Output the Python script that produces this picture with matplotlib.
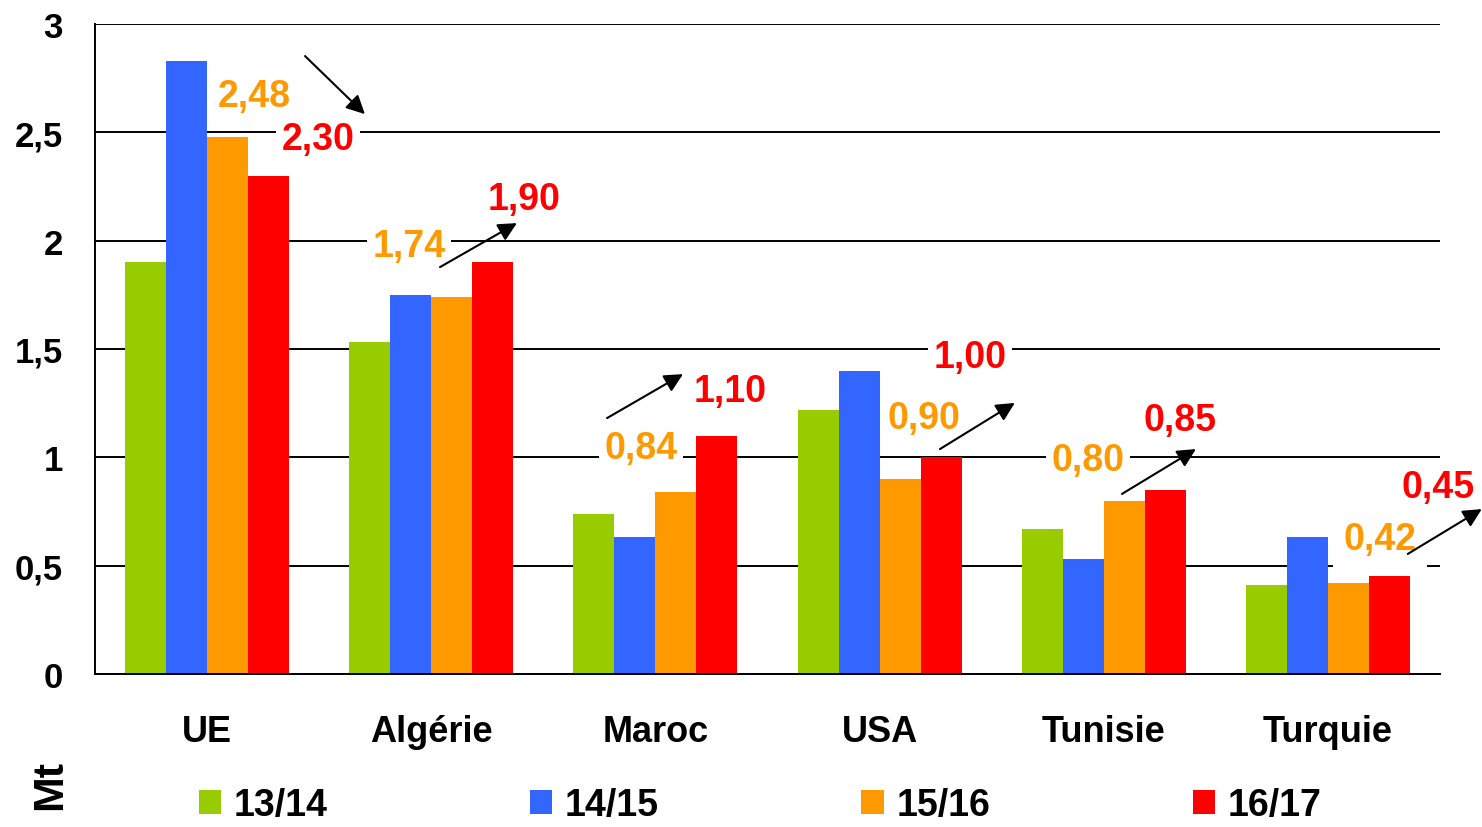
import numpy as np
import matplotlib.pyplot as plt

plt.rcParams['font.family'] = ['Liberation Sans', 'DejaVu Sans']
plt.rcParams['font.weight'] = 'bold'

# production by origin, Mt
pays = ['UE', 'Algérie', 'Maroc', 'USA', 'Tunisie', 'Turquie']
campagnes = ['13/14', '14/15', '15/16', '16/17']
v1314 = [1.90, 1.53, 0.74, 1.22, 0.67, 0.41]
v1415 = [2.83, 1.75, 0.63, 1.40, 0.53, 0.63]
v1516 = [2.48, 1.74, 0.84, 0.90, 0.80, 0.42]
v1617 = [2.30, 1.90, 1.10, 1.00, 0.85, 0.45]
couleurs = ['#99CC00', '#3366FF', '#FF9900', '#FF0000']

# where the 15/16 and 16/17 value labels sit (x, y), one pair per country
pos_1516 = [(0.21, 2.67), (0.90, 1.975), (1.935, 1.043), (3.198, 1.181), (3.929, 0.988), (5.232, 0.623)]
pos_1617 = [(0.495, 2.469), (1.413, 2.192), (2.332, 1.306), (3.403, 1.463), (4.339, 1.172), (5.49, 0.863)]
fleches = [((0.437, 2.852), (0.704, 2.584)),
           ((1.039, 1.878), (1.382, 2.081)),
           ((1.784, 1.181), (2.123, 1.384)),
           ((3.269, 1.038), (3.603, 1.251)),
           ((4.081, 0.831), (4.411, 1.038)),
           ((5.356, 0.554), (5.686, 0.761))]
# white box padding behind labels that sit on a gridline (None = no box)
boite = [None, 0.15, 0.15, None, 0.15, 0.28]
boite_r = [0.15, None, None, 0.15, None, None]


def fmt(v):
    return ('%.2f' % v).replace('.', ',')


def fond(p):
    if p is None:
        return None
    return dict(boxstyle='square,pad=%s' % p, fc='white', ec='none')


fig = plt.figure(figsize=(14.82, 8.28), dpi=100)
ax = fig.add_axes([0.0641, 0.1848, 0.9076, 0.785])

x = np.arange(len(pays))
w = 0.183
series = [v1314, v1415, v1516, v1617]
for k, (vals, c, lab) in enumerate(zip(series, couleurs, campagnes)):
    ax.bar(x + (k - 1.5) * w, vals, w, color=c, label=lab, zorder=2)

ax.set_xlim(-0.5, 5.5)
ax.set_ylim(0, 3)
ax.set_yticks([0, 0.5, 1, 1.5, 2, 2.5, 3])
ax.set_yticklabels(['0', '0,5', '1', '1,5', '2', '2,5', '3'], fontsize=25, fontweight='bold')
ax.set_xticks(x)
ax.set_xticklabels(pays, fontsize=26, fontweight='bold')
ax.tick_params(axis='both', length=0)
ax.tick_params(axis='y', pad=23)
ax.tick_params(axis='x', pad=29)
ax.yaxis.grid(True, color='black', lw=1.4, zorder=0)
ax.set_axisbelow(True)
for s in ['top', 'right']:
    ax.spines[s].set_visible(False)
for s in ['left', 'bottom']:
    ax.spines[s].set_linewidth(1.4)

for i in range(len(pays)):
    ax.text(*pos_1516[i], fmt(v1516[i]), color='#FF9900', fontsize=27, fontweight='bold',
            ha='center', va='center', bbox=fond(boite[i]), zorder=3, clip_on=False)
    ax.text(*pos_1617[i], fmt(v1617[i]), color='#FF0000', fontsize=27, fontweight='bold',
            ha='center', va='center', bbox=fond(boite_r[i]), zorder=3, clip_on=False)
    a, b = fleches[i]
    ax.annotate('', xy=b, xytext=a, annotation_clip=False,
                arrowprops=dict(arrowstyle='-|>', color='black', lw=1.5, mutation_scale=28,
                                shrinkA=0, shrinkB=0), zorder=4)

fig.text(0.034, 0.052, 'Mt', rotation=90, fontsize=31, fontweight='bold', ha='center', va='center')

fig.legend(loc='center left', bbox_to_anchor=(0.134, 0.026), ncol=4, frameon=False,
           fontsize=27, handlelength=0.6, handleheight=0.6, handletextpad=0.33,
           columnspacing=5.4, borderpad=0, borderaxespad=0)

fig.savefig('out.png', dpi=100)
